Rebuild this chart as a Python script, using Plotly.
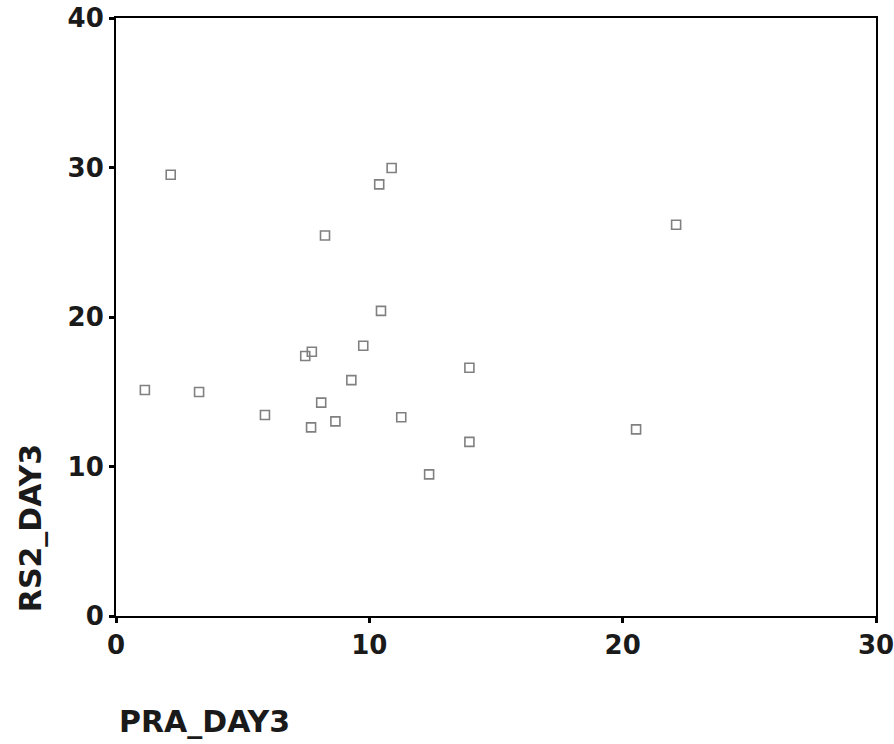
import plotly.graph_objects as go

# PRA_DAY3 vs RS2_DAY3 observations
pra_day3 = [2.16, 10.88, 10.39, 8.25, 22.11, 10.46, 9.76, 7.73, 7.47, 9.29, 13.95,
            1.14, 3.28, 5.88, 8.10, 7.70, 8.66, 11.26, 12.36, 13.95, 20.53]
rs2_day3 = [29.52, 29.97, 28.87, 25.45, 26.17, 20.41, 18.08, 17.68, 17.39, 15.78, 16.61,
            15.12, 14.98, 13.44, 14.27, 12.62, 13.02, 13.29, 9.47, 11.65, 12.48]

x_ticks = [0, 10, 20, 30]
y_ticks = [0, 10, 20, 30, 40]

FONT = "DejaVu Sans"
INK = "#1a1a1a"

fig = go.Figure(
    go.Scatter(
        x=pra_day3,
        y=rs2_day3,
        mode="markers",
        marker=dict(symbol="square-open", size=9, color="#808080",
                    line=dict(width=1.6, color="#808080")),
        showlegend=False,
        hoverinfo="x+y",
    )
)

axis_common = dict(
    showline=True,
    linecolor="black",
    linewidth=2,
    mirror=True,
    showgrid=False,
    zeroline=False,
    automargin=False,
    ticklabeloverflow="allow",
    ticks="outside",
    ticklen=5,
    tickwidth=3,
    tickcolor="black",
    tickfont=dict(family=FONT, size=26, color=INK, weight="bold"),
)

fig.update_xaxes(range=[0, 30], tickvals=x_ticks, ticktext=[str(v) for v in x_ticks],
                 **axis_common)
fig.update_yaxes(range=[0, 40], tickvals=y_ticks, ticktext=[str(v) for v in y_ticks],
                 **axis_common)

fig.add_annotation(text="<b>RS2_DAY3</b>", xref="paper", yref="paper",
                   x=-0.113, y=0.147, textangle=-90, showarrow=False,
                   xanchor="center", yanchor="middle",
                   font=dict(family=FONT, size=30, color=INK))
fig.add_annotation(text="<b>PRA_DAY3</b>", xref="paper", yref="paper",
                   x=0.117, y=-0.177, showarrow=False,
                   xanchor="center", yanchor="middle",
                   font=dict(family=FONT, size=30, color=INK))

fig.update_layout(
    width=894,
    height=744,
    margin=dict(l=116, r=18, t=18, b=128),
    paper_bgcolor="white",
    plot_bgcolor="white",
)

fig.write_html("out.html")
